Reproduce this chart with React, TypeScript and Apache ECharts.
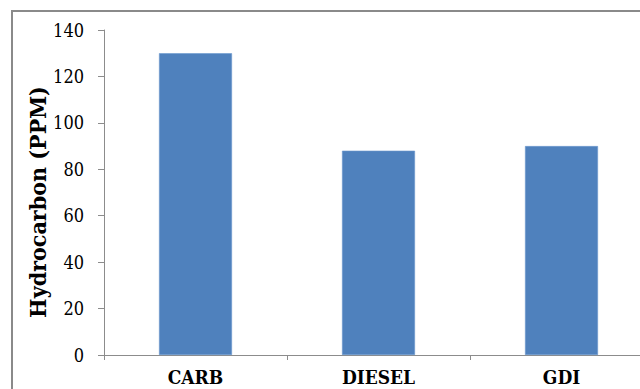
import React, { useEffect, useRef } from "react";
import * as echarts from "echarts";

const categories = ["CARB", "DIESEL", "GDI"];
const hydrocarbonPpm = [130, 88, 90];
const yTicks = { min: 0, max: 140, interval: 20 };
const yTitle = "Hydrocarbon (PPM)";

const FONT = "DejaVu Serif Condensed";

export default function App() {
  const ref = useRef<HTMLDivElement>(null);

  useEffect(() => {
    if (!ref.current) return;
    const chart = echarts.init(ref.current, undefined, { renderer: "svg" });
    chart.setOption({
      animation: false,
      backgroundColor: "#ffffff",
      textStyle: { fontFamily: FONT },
      graphic: [
        {
          type: "rect",
          shape: { x: 12, y: 11, width: 700, height: 500 },
          style: { fill: "none", stroke: "#8a8a8a", lineWidth: 2 },
          silent: true,
          z: -1,
        },
        {
          type: "text",
          x: 37,
          y: 202,
          rotation: Math.PI / 2,
          style: {
            text: yTitle,
            fontFamily: FONT,
            fontSize: 23,
            fontWeight: "bold",
            fill: "#000000",
            align: "center",
            verticalAlign: "middle",
          },
          silent: true,
        },
      ],
      grid: {
        left: 104,
        top: 30,
        width: 549,
        height: 325,
        containLabel: false,
        outerBoundsMode: "none",
      },
      xAxis: {
        type: "category",
        data: categories,
        axisLine: { lineStyle: { color: "#8c8c8c", width: 1 } },
        axisTick: { show: true, length: 5, lineStyle: { color: "#8c8c8c" } },
        axisLabel: {
          margin: 13,
          fontFamily: FONT,
          fontSize: 19,
          lineHeight: 18,
          fontWeight: "bold",
          color: "#000000",
        },
      },
      yAxis: {
        type: "value",
        min: yTicks.min,
        max: yTicks.max,
        interval: yTicks.interval,
        axisLine: { show: true, lineStyle: { color: "#8c8c8c", width: 1 } },
        axisTick: { show: true, length: 6, lineStyle: { color: "#8c8c8c" } },
        splitLine: { show: false },
        axisLabel: {
          margin: 20,
          fontFamily: FONT,
          fontSize: 18,
          color: "#000000",
        },
      },
      series: [
        {
          type: "bar",
          data: hydrocarbonPpm,
          barWidth: 73,
          itemStyle: { color: "#4f81bd", borderColor: "#6b98cf", borderWidth: 0.6 },
        },
      ],
    });
    return () => chart.dispose();
  }, []);

  return (
    <div
      ref={ref}
      style={{ position: "fixed", left: 0, top: 0, width: 640, height: 389, overflow: "hidden" }}
    />
  );
}
